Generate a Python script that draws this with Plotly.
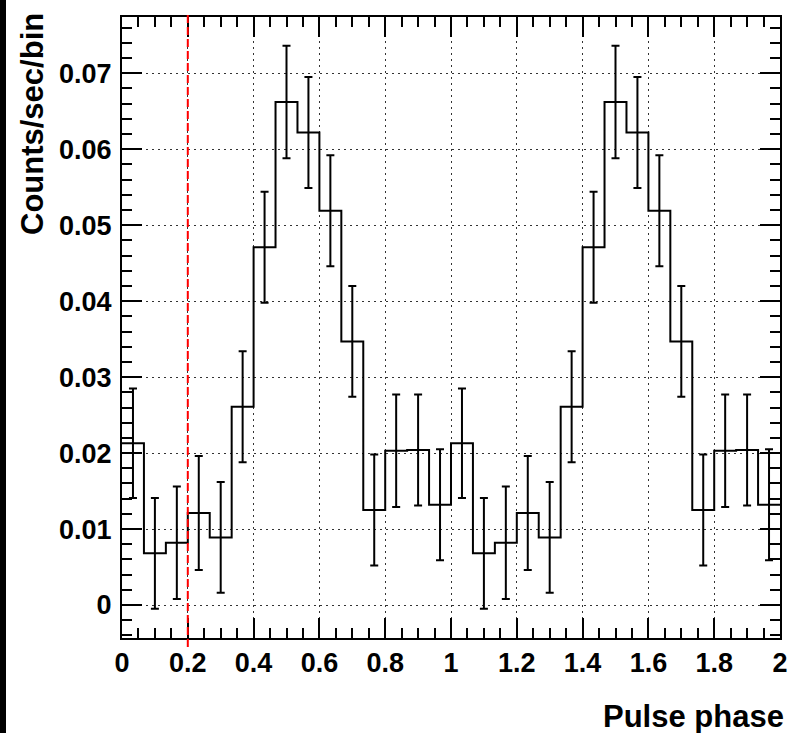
import plotly.graph_objects as go

# ---- data ----
bin_edges = [i / 15 for i in range(31)]  # 30 bins over 0..2 (pulse phase)
counts = [0.0213, 0.0068, 0.0082, 0.0121, 0.0089, 0.0261, 0.0471, 0.0662, 0.0622, 0.0519,
          0.0347, 0.0125, 0.0203, 0.0204, 0.0132,
          0.0213, 0.0068, 0.0082, 0.0121, 0.0089, 0.0261, 0.0471, 0.0662, 0.0622, 0.0519,
          0.0347, 0.0125, 0.0203, 0.0204, 0.0132]
errors = [0.0072, 0.0073, 0.0074, 0.0075, 0.0073, 0.0073, 0.0073, 0.0074, 0.0073, 0.0073,
          0.0073, 0.0073, 0.0074, 0.0073, 0.0073,
          0.0072, 0.0073, 0.0074, 0.0075, 0.0073, 0.0073, 0.0073, 0.0074, 0.0073, 0.0073,
          0.0073, 0.0073, 0.0074, 0.0073, 0.0073]
marker_phase = 0.2
x_title = "Pulse phase"
y_title = "Counts/sec/bin"

centers = [(bin_edges[i] + bin_edges[i + 1]) / 2 for i in range(len(counts))]

W, H = 800, 733
ML, MR, MT, MB = 122, 20, 17, 95
PW, PH = W - ML - MR, H - MT - MB

def px_x(p):
    return (p - ML) / PW

def px_y(p):
    return (H - MB - p) / PH

fig = go.Figure()

# histogram outline (step)
fig.add_trace(go.Scatter(
    x=bin_edges, y=counts + [counts[-1]], mode="lines", line_shape="hv",
    line=dict(color="black", width=2), hoverinfo="skip", showlegend=False))

# error bars
fig.add_trace(go.Scatter(
    x=centers, y=counts, mode="markers", marker=dict(size=0, color="rgba(0,0,0,0)"),
    error_y=dict(type="data", array=errors, visible=True, color="black", thickness=2, width=4),
    showlegend=False))

font_family = "Liberation Sans, Arial, sans-serif"

fig.update_layout(
    width=W, height=H,
    margin=dict(l=ML, r=MR, t=MT, b=MB, pad=0),
    paper_bgcolor="white", plot_bgcolor="white",
    showlegend=False,
    font=dict(family=font_family, color="black"),
)

fig.update_xaxes(
    range=[0, 2], dtick=0.2, tick0=0,
    showline=True, linecolor="black", linewidth=2, mirror="allticks",
    ticks="inside", ticklen=20, tickwidth=2, tickcolor="black",
    minor=dict(dtick=0.05, ticks="inside", ticklen=10, tickwidth=2, tickcolor="black", showgrid=False),
    showgrid=True, gridcolor="#333", gridwidth=1, griddash="2px,4px",
    zeroline=False,
    tickfont=dict(size=27, family=font_family, weight="bold", color="black"),
    ticklabelstandoff=0,
)
fig.update_yaxes(
    range=[-0.00434, 0.0774], dtick=0.01, tick0=0,
    showline=True, linecolor="black", linewidth=2, mirror="allticks",
    ticks="inside", ticklen=20, tickwidth=2, tickcolor="black",
    minor=dict(dtick=0.002, ticks="inside", ticklen=10, tickwidth=2, tickcolor="black", showgrid=False),
    showgrid=True, gridcolor="#333", gridwidth=1, griddash="2px,4px",
    zeroline=False,
    tickfont=dict(size=27, family=font_family, weight="bold", color="black"),
    ticklabelstandoff=3,
)

# black strip at the left edge of the canvas
fig.add_shape(type="rect", xref="paper", yref="paper",
              x0=px_x(0), x1=px_x(6), y0=px_y(H), y1=px_y(0),
              fillcolor="black", line=dict(width=0), layer="above")

# red dashed marker line
fig.add_shape(type="line", xref="x", yref="paper",
              x0=marker_phase, x1=marker_phase, y0=px_y(647), y1=px_y(13),
              line=dict(color="red", width=2, dash="8px,4px"), layer="above")

fig.add_annotation(text=x_title, xref="paper", yref="paper",
                   x=px_x(786), y=px_y(716), xanchor="right", yanchor="middle",
                   showarrow=False, font=dict(size=31, family=font_family, weight="bold", color="black"))
fig.add_annotation(text=y_title, xref="paper", yref="paper", textangle=-90,
                   x=px_x(33), y=px_y(11), xanchor="center", yanchor="top",
                   showarrow=False, font=dict(size=31, family=font_family, weight="bold", color="black"))

fig.write_html("out.html")
